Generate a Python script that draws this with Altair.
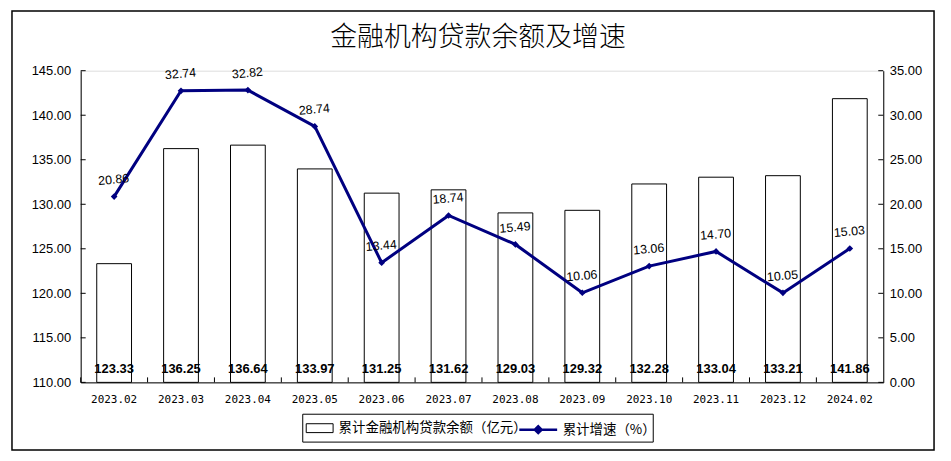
import altair as alt
import pandas as pd

months = ["2023.02", "2023.03", "2023.04", "2023.05", "2023.06", "2023.07",
          "2023.08", "2023.09", "2023.10", "2023.11", "2023.12", "2024.02"]
balance = [123.33, 136.25, 136.64, 133.97, 131.25, 131.62,
           129.03, 129.32, 132.28, 133.04, 133.21, 141.86]
growth = [20.86, 32.74, 32.82, 28.74, 13.44, 18.74,
          15.49, 10.06, 13.06, 14.70, 10.05, 15.03]
left_ticks = [110, 115, 120, 125, 130, 135, 140, 145]
right_ticks = [0, 5, 10, 15, 20, 25, 30, 35]

bar_name = "累计金融机构贷款余额（亿元）"
line_name = "累计增速（%）"
title_text = "金融机构贷款余额及增速"

df = pd.DataFrame({"month": months, "balance": balance, "growth": growth,
                   "s_bar": bar_name, "s_line": line_name})
df_lt = pd.DataFrame({"v": left_ticks})
df_rt = pd.DataFrame({"v": right_ticks})

NAVY = "#000080"
W, H = 806, 313

x_scale = alt.Scale(paddingInner=0, paddingOuter=0)
x_enc = alt.X("month:N", sort=months, title=None, scale=x_scale,
              axis=alt.Axis(labelAngle=0, labelFont="DejaVu Sans Mono", labelFontSize=11,
                            labelColor="black", domainColor="black", ticks=False,
                            labelPadding=11))

yl_scale = alt.Scale(domain=[110, 145], zero=False, nice=False)
yr_scale = alt.Scale(domain=[0, 35], nice=False)

bar_legend = alt.Legend(
    title=None, orient="none", legendX=226, legendY=345, padding=0,
    symbolType="M-1,-0.33H1V0.33H-1Z", symbolSize=729,
    symbolStrokeColor="black", symbolStrokeWidth=1, labelOffset=5, labelLimit=400,
    labelFont="Noto Sans CJK SC", labelFontSize=13.5, labelColor="black",
)
line_legend = alt.Legend(
    title=None, orient="none", legendX=439, legendY=340, padding=0,
    symbolType="M-1,0H1M-0.18,0L0,-0.18L0.18,0L0,0.18Z", symbolSize=1444,
    symbolFillColor=NAVY, symbolStrokeWidth=2.5, labelOffset=4, labelLimit=400,
    labelFont="Noto Sans CJK SC", labelFontSize=13.5, labelColor="black",
)

base = alt.Chart(df)

bars = base.mark_bar(stroke="black", strokeWidth=1, width=alt.RelativeBandSize(0.52)).encode(
    x=x_enc,
    y=alt.Y("balance:Q", scale=yl_scale, title=None,
            axis=alt.Axis(values=left_ticks, format=".2f", grid=False,
                          labelFont="Liberation Sans", labelFontSize=13,
                          labelColor="black", domainColor="black", ticks=False,
                          labelPadding=10)),
    y2=alt.datum(110),
    fill=alt.Fill("s_bar:N", scale=alt.Scale(domain=[bar_name], range=["white"]),
                  legend=bar_legend),
)

bar_labels = base.mark_text(fontWeight="bold", font="Liberation Sans", fontSize=13,
                            color="black", dy=-13, baseline="middle").encode(
    x=alt.X("month:N", sort=months),
    y=alt.datum(110),
    text=alt.Text("balance:Q", format=".2f"),
)

x_ticks = base.mark_rule(color="black", strokeWidth=1).encode(
    x=alt.X("month:N", sort=months, bandPosition=0),
    y=alt.value(H - 5), y2=alt.value(H),
)

l_ticks = alt.Chart(df_lt).mark_rule(color="black", strokeWidth=1).encode(
    x=alt.value(0), x2=alt.value(5), y=alt.Y("v:Q"),
)

left = alt.layer(bars, bar_labels, x_ticks, l_ticks)

line = base.mark_line(strokeWidth=3).encode(
    x=alt.X("month:N", sort=months),
    y=alt.Y("growth:Q", scale=yr_scale, title=None,
            axis=alt.Axis(values=right_ticks, format=".2f", grid=False,
                          orient="right", labelFont="Liberation Sans", labelFontSize=13,
                          labelColor="black", domainColor="black", ticks=False,
                          labelPadding=6)),
    stroke=alt.Stroke("s_line:N", scale=alt.Scale(domain=[line_name], range=[NAVY]),
                      legend=line_legend),
)

points = base.mark_point(shape="diamond", filled=True, size=45, opacity=1, color=NAVY).encode(
    x=alt.X("month:N", sort=months),
    y=alt.Y("growth:Q"),
)

line_labels = base.mark_text(font="Liberation Sans", fontSize=12.5, color="black",
                             dy=-17, dx=1, angle=355).encode(
    x=alt.X("month:N", sort=months),
    y=alt.Y("growth:Q"),
    text=alt.Text("growth:Q", format=".2f"),
)

r_ticks = alt.Chart(df_rt).mark_rule(color="black", strokeWidth=1).encode(
    x=alt.value(W - 5), x2=alt.value(W), y=alt.Y("v:Q"),
)

right = alt.layer(line, points, line_labels, r_ticks)

one = alt.Data(values=[{}])
frame = alt.Chart(one).mark_rect(fill=None, stroke="black", strokeWidth=1.5).encode(
    x=alt.value(-69), x2=alt.value(857), y=alt.value(-60), y2=alt.value(381)
)
legend_box = alt.Chart(one).mark_rect(fill=None, stroke="black", strokeWidth=1).encode(
    x=alt.value(223), x2=alt.value(575), y=alt.value(345), y2=alt.value(373)
)

title = alt.Chart(alt.Data(values=[{"t": title_text}])).mark_text(
    font="Noto Sans CJK SC", fontSize=27, fontWeight=300, color="black",
    align="center", baseline="middle"
).encode(x=alt.value(399), y=alt.value(-33), text="t:N")

chart = alt.layer(left, right, frame, legend_box, title).resolve_scale(y="independent").properties(
    width=W, height=H,
    autosize=alt.AutoSizeParams(type="none"),
    padding={"left": 73, "top": 62, "right": 60, "bottom": 76},
).configure_view(stroke=None).configure(background="white")

chart.save("out.html", embed_options={"renderer": "svg", "actions": False})
